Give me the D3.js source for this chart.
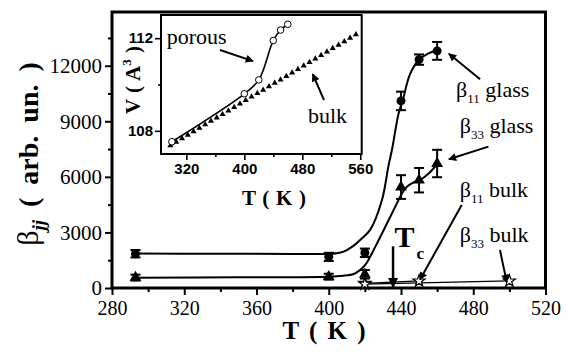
<!DOCTYPE html>
<html lang="en">
  <head>
    <meta charset="UTF-8" />
    <title>beta_jj vs T</title>
    <script src="https://d3js.org/d3.v7.min.js"></script>
    <style>
      body { margin: 0; background: #fff; }
      svg text { font-family: "Liberation Serif", "Times New Roman", serif; fill: #000; }
    </style>
  </head>
  <body>
    <svg id="chart" width="567" height="352"></svg>
    <script>
      // main plot data
      const tGlass = [293, 400, 420, 440, 450, 460];
      const b11Glass = [1850, 1680, 1900, 10100, 12330, 12800];
      const b11GlassErr = [200, 220, 230, 500, 280, 480];
      const b33Glass = [560, 610, 740, 5450, 5820, 6720];
      const b33GlassErr = [160, 160, 230, 640, 660, 740];

      const tB11Bulk = [420, 450];
      const b11Bulk = [250, 380];
      const tB33Bulk = [420, 500];
      const b33Bulk = [210, 380];

      // fitted curves as traced
      const tFit11 = [293, 340, 380, 400, 406, 410, 414, 418, 423, 429.5, 433, 435, 438.7, 441, 445, 450, 455, 460];
      const fit11 = [1860, 1850, 1840, 1840, 1900, 2050, 2300, 2650, 3150, 4760, 6560, 7460, 9440, 10150, 11550, 12320, 12650, 12850];
      const tFit33 = [293, 350, 400, 408, 413.8, 417, 420.2, 425.8, 432.3, 437.8, 440.6, 443.4, 447, 450.7, 455, 460];
      const fit33 = [560, 580, 610, 660, 757, 950, 1243, 2232, 3497, 4580, 5120, 5475, 5700, 5840, 6150, 6680];

      const xTicks = [280, 320, 360, 400, 440, 480, 520];
      const xMinor = [300, 340, 380, 420, 460, 500];
      const yTicks = [0, 3000, 6000, 9000, 12000];
      const yMinor = [1500, 4500, 7500, 10500, 13500];

      // inset data
      const tPorous = [300, 400, 420, 440, 450, 460];
      const vPorous = [107.53, 109.6, 110.2, 111.9, 112.35, 112.6];
      const tBulk = [298, 306, 314, 322, 330, 338, 346, 354, 362, 370, 378, 386, 394, 402, 410, 418, 426,
        434, 442, 450, 458, 466, 474, 482, 490, 498, 506, 514, 522, 530, 538, 546, 554];
      const vBulk = [107.37, 107.52, 107.67, 107.82, 107.97, 108.12, 108.27, 108.42, 108.57, 108.72, 108.87,
        109.02, 109.17, 109.32, 109.47, 109.62, 109.76, 109.91, 110.06, 110.21, 110.36, 110.51, 110.66,
        110.81, 110.96, 111.11, 111.26, 111.41, 111.56, 111.71, 111.86, 112.01, 112.16];
      const insetXTicks = [320, 400, 480, 560];
      const insetXMinor = [360, 440, 520];
      const insetYTicks = [108, 112];
      const insetYMinor = [110];

      const serif = '"Liberation Serif", "Times New Roman", serif';
      const sans = '"Liberation Sans", Arial, sans-serif';

      const svg = d3.select("#chart");

      svg.append("defs").append("marker")
        .attr("id", "head")
        .attr("viewBox", "0 0 10 10")
        .attr("refX", 9).attr("refY", 5)
        .attr("markerWidth", 4.5).attr("markerHeight", 4)
        .attr("markerUnits", "strokeWidth")
        .attr("orient", "auto")
        .append("path").attr("d", "M0,0 L10,5 L0,10 Z").attr("fill", "#000");

      const x = d3.scaleLinear().domain([280, 520]).range([112, 545.5]);
      const y = d3.scaleLinear().domain([0, 14900]).range([288, 12]);

      const main = svg.append("g");

      // axes
      const gy = main.append("g").attr("transform", `translate(${x(280)},0)`)
        .call(d3.axisLeft(y).tickValues(yTicks).tickSize(7).tickPadding(3).tickFormat(d3.format("d")));
      main.append("g").attr("transform", `translate(${x(280)},0)`)
        .call(d3.axisLeft(y).tickValues(yMinor).tickSize(4).tickFormat(""));
      const gx = main.append("g").attr("transform", `translate(0,${y(0)})`)
        .call(d3.axisBottom(x).tickValues(xTicks).tickSize(7).tickPadding(6));
      main.append("g").attr("transform", `translate(0,${y(0)})`)
        .call(d3.axisBottom(x).tickValues(xMinor).tickSize(4).tickFormat(""));
      main.selectAll(".domain").remove();
      main.selectAll(".tick line").attr("stroke", "#000").attr("stroke-width", 2);
      gy.selectAll(".tick text").style("font-family", serif).style("font-size", "21px");
      gx.selectAll(".tick text").style("font-family", serif).style("font-size", "20px");

      main.append("rect")
        .attr("x", x(280)).attr("y", y(14900))
        .attr("width", x(520) - x(280)).attr("height", y(0) - y(14900))
        .attr("fill", "none").attr("stroke", "#000").attr("stroke-width", 3);

      // axis labels
      const yl = main.append("text")
        .attr("transform", "translate(38,154) rotate(-90)")
        .attr("text-anchor", "middle")
        .style("font-family", serif)
        .style("font-size", "28px")
        .style("word-spacing", "6px");
      yl.append("tspan").style("font-size", "30px").text("β");
      yl.append("tspan").attr("dy", 7).style("font-size", "19px").style("font-style", "italic").style("font-weight", "bold").text("jj");
      yl.append("tspan").attr("dy", -7).style("font-weight", "bold").text(" ( arb. un. )");

      main.append("text")
        .attr("x", 324).attr("y", 339)
        .attr("text-anchor", "middle")
        .style("font-family", serif)
        .style("font-size", "25px").style("font-weight", "bold")
        .style("word-spacing", "4px")
        .text("T ( K )");

      // fit curves
      const fitLine = d3.line().x(d => x(d[0])).y(d => y(d[1])).curve(d3.curveCatmullRom.alpha(0.5));
      main.append("path").datum(d3.zip(tFit11, fit11)).attr("d", fitLine)
        .attr("fill", "none").attr("stroke", "#000").attr("stroke-width", 2);
      main.append("path").datum(d3.zip(tFit33, fit33)).attr("d", fitLine)
        .attr("fill", "none").attr("stroke", "#000").attr("stroke-width", 2);

      // bulk lines
      const straight = d3.line().x(d => x(d[0])).y(d => y(d[1]));
      main.append("path").datum(d3.zip(tB11Bulk, b11Bulk)).attr("d", straight)
        .attr("fill", "none").attr("stroke", "#000").attr("stroke-width", 1.3);
      main.append("path").datum(d3.zip(tB33Bulk, b33Bulk)).attr("d", straight)
        .attr("fill", "none").attr("stroke", "#000").attr("stroke-width", 1.3);

      // error bars
      function errorBars(ts, vs, es) {
        const g = main.append("g").attr("stroke", "#000").attr("stroke-width", 2);
        ts.forEach((t, i) => {
          const cx = x(t), lo = y(vs[i] - es[i]), hi = y(vs[i] + es[i]);
          g.append("line").attr("x1", cx).attr("x2", cx).attr("y1", lo).attr("y2", hi);
          g.append("line").attr("x1", cx - 5).attr("x2", cx + 5).attr("y1", lo).attr("y2", lo);
          g.append("line").attr("x1", cx - 5).attr("x2", cx + 5).attr("y1", hi).attr("y2", hi);
        });
      }
      errorBars(tGlass, b11Glass, b11GlassErr);
      errorBars(tGlass, b33Glass, b33GlassErr);

      main.selectAll(".c11").data(d3.zip(tGlass, b11Glass)).enter().append("circle")
        .attr("cx", d => x(d[0])).attr("cy", d => y(d[1])).attr("r", 4.5).attr("fill", "#000");
      main.selectAll(".t33").data(d3.zip(tGlass, b33Glass)).enter().append("path")
        .attr("transform", d => `translate(${x(d[0])},${y(d[1])})`)
        .attr("d", d3.symbol(d3.symbolTriangle, 60)).attr("fill", "#000");
      const star = d3.symbol(d3.symbolStar, 45);
      main.selectAll(".s11").data(d3.zip(tB11Bulk, b11Bulk).concat(d3.zip(tB33Bulk, b33Bulk))).enter().append("path")
        .attr("transform", d => `translate(${x(d[0])},${y(d[1])})`)
        .attr("d", star).attr("fill", "#fff").attr("stroke", "#000").attr("stroke-width", 1.2);

      // annotations: [symbol, subscript, rest, T, value]
      const notes = [
        ["β", "11", " glass", 470.5, 10300],
        ["β", "33", " glass", 472.5, 8380],
        ["β", "11", " bulk", 472.5, 4930],
        ["β", "33", " bulk", 472.5, 2480]
      ];
      notes.forEach(n => {
        const t = main.append("text").attr("x", x(n[3])).attr("y", y(n[4]))
          .style("font-family", serif).style("font-size", "22px");
        t.append("tspan").text(n[0]);
        t.append("tspan").attr("dy", 6).style("font-size", "13px").text(n[1]);
        t.append("tspan").attr("dy", -6).text(n[2]);
      });
      const arrows = [
        [483.8, 11270, 466.5, 12650, 2],
        [488.4, 7630, 466.5, 6950, 2],
        [473.6, 4480, 450.5, 450, 2],
        [494.8, 2050, 498.5, 330, 2],
        [435.6, 2250, 435.6, 60, 2.5]
      ];
      main.selectAll(".arr").data(arrows).enter().append("line")
        .attr("x1", d => x(d[0])).attr("y1", d => y(d[1]))
        .attr("x2", d => x(d[2])).attr("y2", d => y(d[3]))
        .attr("stroke", "#000").attr("stroke-width", d => d[4]).attr("marker-end", "url(#head)");

      const tc = main.append("text").attr("x", x(436.4)).attr("y", y(2220))
        .style("font-family", serif)
        .style("font-size", "30px").style("font-weight", "bold");
      tc.append("tspan").text("T");
      tc.append("tspan").attr("dx", 2).attr("dy", 12).style("font-size", "17px").text("c");

      // inset
      const ix = d3.scaleLinear().domain([285, 562]).range([161, 361.7]);
      const iy = d3.scaleLinear().domain([107, 113]).range([154, 15]);
      const inset = svg.append("g");

      inset.append("rect")
        .attr("x", ix(285)).attr("y", iy(113))
        .attr("width", ix(562) - ix(285)).attr("height", iy(107) - iy(113))
        .attr("fill", "#fff");

      inset.append("g").attr("transform", `translate(${ix(285)},0)`)
        .call(d3.axisLeft(iy).tickValues(insetYTicks).tickSize(6).tickPadding(2).tickFormat(d3.format("d")));
      inset.append("g").attr("transform", `translate(${ix(285)},0)`)
        .call(d3.axisLeft(iy).tickValues(insetYMinor).tickSize(3).tickFormat(""));
      inset.append("g").attr("transform", `translate(0,${iy(107)})`)
        .call(d3.axisBottom(ix).tickValues(insetXTicks).tickSize(6).tickPadding(3));
      inset.append("g").attr("transform", `translate(0,${iy(107)})`)
        .call(d3.axisBottom(ix).tickValues(insetXMinor).tickSize(3).tickFormat(""));
      inset.selectAll(".domain").remove();
      inset.selectAll(".tick line").attr("stroke", "#000").attr("stroke-width", 1.6);
      inset.selectAll(".tick text").style("font-family", sans).style("font-weight", "bold").style("font-size", "15px");

      inset.append("rect")
        .attr("x", ix(285)).attr("y", iy(113))
        .attr("width", ix(562) - ix(285)).attr("height", iy(107) - iy(113))
        .attr("fill", "none").attr("stroke", "#000").attr("stroke-width", 2);

      const vl = inset.append("text")
        .attr("transform", "translate(140,80) rotate(-90)")
        .attr("text-anchor", "middle")
        .style("font-family", serif)
        .style("font-size", "21px").style("font-weight", "bold")
        .style("word-spacing", "1px");
      vl.append("tspan").text("V ( A");
      vl.append("tspan").attr("dy", -9).style("font-size", "13px").text("3");
      vl.append("tspan").attr("dy", 9).text(" )");

      inset.append("text")
        .attr("x", 274).attr("y", 205)
        .attr("text-anchor", "middle")
        .style("font-family", serif)
        .style("font-size", "21px").style("font-weight", "bold")
        .style("word-spacing", "1.5px")
        .text("T ( K )");

      inset.selectAll(".bt").data(d3.zip(tBulk, vBulk)).enter().append("path")
        .attr("transform", d => `translate(${ix(d[0])},${iy(d[1])})`)
        .attr("d", d3.symbol(d3.symbolTriangle, 16)).attr("fill", "#000");

      inset.append("path").datum(d3.zip(tPorous, vPorous))
        .attr("d", d3.line().x(d => ix(d[0])).y(d => iy(d[1])).curve(d3.curveCatmullRom.alpha(0.5)))
        .attr("fill", "none").attr("stroke", "#000").attr("stroke-width", 1.6);
      inset.selectAll(".pc").data(d3.zip(tPorous, vPorous)).enter().append("circle")
        .attr("cx", d => ix(d[0])).attr("cy", d => iy(d[1])).attr("r", 3.3)
        .attr("fill", "#fff").attr("stroke", "#000").attr("stroke-width", 1);

      inset.append("text").attr("x", ix(292.9)).attr("y", iy(111.75))
        .style("font-family", serif).style("font-size", "22px").text("porous");
      inset.append("text").attr("x", ix(487.9)).attr("y", iy(108.34))
        .style("font-family", serif).style("font-size", "22px").text("bulk");

      const insetArrows = [
        [366.4, 111.49, 412, 111.01],
        [510, 109.33, 494.4, 110.45]
      ];
      inset.selectAll(".ia").data(insetArrows).enter().append("line")
        .attr("x1", d => ix(d[0])).attr("y1", d => iy(d[1]))
        .attr("x2", d => ix(d[2])).attr("y2", d => iy(d[3]))
        .attr("stroke", "#000").attr("stroke-width", 2).attr("marker-end", "url(#head)");
    </script>
  </body>
</html>
